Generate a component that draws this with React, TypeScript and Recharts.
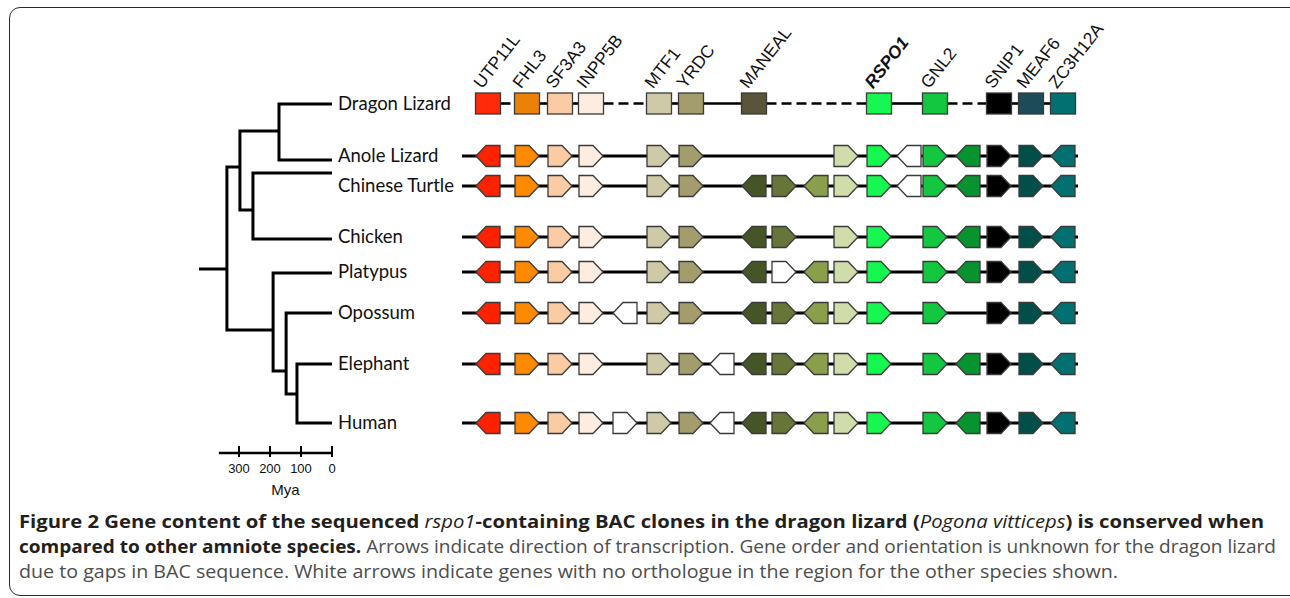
import { ComposedChart, Line, Scatter, XAxis, YAxis } from "recharts";

// ---- data ----
const speciesNames = [
  "Dragon Lizard",
  "Anole Lizard",
  "Chinese Turtle",
  "Chicken",
  "Platypus",
  "Opossum",
  "Elephant",
  "Human",
];

// gene columns along the locus (novel* = no orthologue in the other species)
const geneIds = [
  "UTP11L", "FHL3", "SF3A3", "INPP5B", "novelA", "MTF1", "YRDC", "novelB", "MANEAL",
  "olive1", "novelD", "olive2", "pale", "RSPO1", "novelC", "GNL2", "green2", "SNIP1",
  "MEAF6", "ZC3H12A",
];
const genePositions = [
  488, 527, 560, 591, 625, 659, 691, 722, 754, 784, 784, 816, 846, 879, 909, 935, 968, 999,
  1031, 1063,
];
const geneColors = [
  "#ff2200", "#ff8a00", "#fbcba4", "#fdede0", "#ffffff", "#cecaa7", "#a39c6c", "#ffffff",
  "#465526", "#677638", "#ffffff", "#8a9e4b", "#d0ddab", "#17f752", "#ffffff", "#13c741",
  "#079430", "#000000", "#024f49", "#026f70",
];

// dragon lizard BAC clones: order unknown, drawn as boxes
const dragonGenes = [
  "UTP11L", "FHL3", "SF3A3", "INPP5B", "MTF1", "YRDC", "MANEAL", "RSPO1", "GNL2", "SNIP1",
  "MEAF6", "ZC3H12A",
];
const dragonColors = [
  "#ff2a0a", "#eb8207", "#fbcba4", "#fdede0", "#cecaa7", "#a39c6c", "#5a553a", "#17f752",
  "#13c741", "#000000", "#1d4c58", "#026f70",
];
const dragonGapDashed = [true, false, false, true, false, false, true, false, true, true, false];

// "<" = leftward transcription, ">" = rightward
const anoleGenes = ["UTP11L<", "FHL3>", "SF3A3>", "INPP5B>", "MTF1>", "YRDC>", "pale>", "RSPO1>", "novelC<", "GNL2>", "green2<", "SNIP1>", "MEAF6>", "ZC3H12A<"];
const turtleGenes = ["UTP11L<", "FHL3>", "SF3A3>", "INPP5B>", "MTF1>", "YRDC>", "MANEAL<", "olive1>", "olive2<", "pale>", "RSPO1>", "novelC<", "GNL2>", "green2<", "SNIP1>", "MEAF6>", "ZC3H12A<"];
const chickenGenes = ["UTP11L<", "FHL3>", "SF3A3>", "INPP5B>", "MTF1>", "YRDC>", "MANEAL<", "olive1>", "pale>", "RSPO1>", "GNL2>", "green2<", "SNIP1>", "MEAF6>", "ZC3H12A<"];
const platypusGenes = ["UTP11L<", "FHL3>", "SF3A3>", "INPP5B>", "MTF1>", "YRDC>", "MANEAL<", "novelD>", "olive2<", "pale>", "RSPO1>", "GNL2>", "green2<", "SNIP1>", "MEAF6>", "ZC3H12A<"];
const opossumGenes = ["UTP11L<", "FHL3>", "SF3A3>", "INPP5B>", "novelA<", "MTF1>", "YRDC>", "MANEAL<", "olive1>", "olive2<", "pale>", "RSPO1>", "GNL2>", "SNIP1>", "MEAF6>", "ZC3H12A<"];
const elephantGenes = ["UTP11L<", "FHL3>", "SF3A3>", "INPP5B>", "MTF1>", "YRDC>", "novelB<", "MANEAL<", "olive1>", "olive2<", "pale>", "RSPO1>", "GNL2>", "green2<", "SNIP1>", "MEAF6>", "ZC3H12A<"];
const humanGenes = ["UTP11L<", "FHL3>", "SF3A3>", "INPP5B>", "novelA>", "MTF1>", "YRDC>", "novelB<", "MANEAL<", "olive1>", "olive2<", "pale>", "RSPO1>", "GNL2>", "green2<", "SNIP1>", "MEAF6>", "ZC3H12A<"];
const speciesGenes = [anoleGenes, turtleGenes, chickenGenes, platypusGenes, opossumGenes, elephantGenes, humanGenes];

// phylogeny, divergence times in Mya
const cladeNames = ["Squamata", "Archelosauria", "Sauropsida", "Eutheria", "Theria", "Mammalia", "Amniota"];
const cladeMya = [171, 255, 297, 113, 148, 190, 339];
const cladeChildren = [
  ["Dragon Lizard", "Anole Lizard"],
  ["Chinese Turtle", "Chicken"],
  ["Squamata", "Archelosauria"],
  ["Elephant", "Human"],
  ["Opossum", "Eutheria"],
  ["Platypus", "Theria"],
  ["Sauropsida", "Mammalia"],
];
const rootStemMya = 429;
const scaleTicks = [300, 200, 100, 0];
const scaleBarStart = 365;

// ---- layout ----
const W = 1290;
const CHART_H = 500;
const AXIS_H = 40;
const PLOT_BOTTOM = CHART_H - AXIS_H;
const rowTrack = [103.5, 156, 186, 237, 272, 313, 364, 423];
const tipTrack = [104, 160, 173, 239, 273, 313, 364, 423];
const cladeTrack = [131, 210, 167, 394, 371, 330, 269];
const scaleTrack = 453;
const locusStart = 462;
const locusEnd = 1078;
const labelX = 338;
const MYA_ZERO_PX = 332;
const PX_PER_MYA = 0.31;
const myaDomain = [MYA_ZERO_PX / PX_PER_MYA - W / PX_PER_MYA, MYA_ZERO_PX / PX_PER_MYA];

const posOf = (id: string) => genePositions[geneIds.indexOf(id)];
const colorOf = (id: string) => geneColors[geneIds.indexOf(id)];

const rowGenePoints = speciesGenes.flatMap((list, i) =>
  list.map((s) => {
    const id = s.slice(0, -1);
    return { x: posOf(id), y: rowTrack[i + 1], dir: s.endsWith("<") ? "L" : "R", color: colorOf(id) };
  })
);

const dragonPoints = dragonGenes.map((g, i) => ({
  x: posOf(g),
  y: rowTrack[0],
  gene: g,
  color: dragonColors[i],
}));

const dragonLinks = dragonGenes.slice(1).map((g, i) => ({
  data: [
    { x: posOf(dragonGenes[i]) + 12.5, y: rowTrack[0] },
    { x: posOf(g) - 12.5, y: rowTrack[0] },
  ],
  dashed: dragonGapDashed[i],
}));

const labelPoints = speciesNames.map((name, i) => ({ x: labelX, y: rowTrack[i], name }));

const isTip = (n: string) => speciesNames.includes(n);
const nodeMya = (n: string) => (isTip(n) ? 0 : cladeMya[cladeNames.indexOf(n)]);
const nodeTrack = (n: string) =>
  isTip(n) ? tipTrack[speciesNames.indexOf(n)] : cladeTrack[cladeNames.indexOf(n)];

const treePaths = cladeNames.map((c, i) => {
  const [a, b] = cladeChildren[i];
  const m = cladeMya[i];
  return [
    { mya: nodeMya(a), y: nodeTrack(a) },
    { mya: m, y: nodeTrack(a) },
    { mya: m, y: nodeTrack(b) },
    { mya: nodeMya(b), y: nodeTrack(b) },
  ];
});
const rootStem = [
  { mya: rootStemMya, y: cladeTrack[6] },
  { mya: cladeMya[6], y: cladeTrack[6] },
];
const scaleBar = [
  { mya: scaleBarStart, y: scaleTrack },
  { mya: 0, y: scaleTrack },
];

// ---- shapes ----
const HW = 12;
const HH = 10.5;
const HEAD = 10;

function GeneArrow(props: any) {
  const { cx, cy, payload } = props;
  const pts =
    payload.dir === "R"
      ? [[cx - HW, cy - HH], [cx + HW - HEAD, cy - HH], [cx + HW, cy], [cx + HW - HEAD, cy + HH], [cx - HW, cy + HH]]
      : [[cx + HW, cy - HH], [cx - HW + HEAD, cy - HH], [cx - HW, cy], [cx - HW + HEAD, cy + HH], [cx + HW, cy + HH]];
  return (
    <polygon
      points={pts.map((p) => p.join(",")).join(" ")}
      fill={payload.color}
      stroke="#3a3a3a"
      strokeWidth={1.3}
    />
  );
}

function DragonBox(props: any) {
  const { cx, cy, payload } = props;
  const tx = cx - 6;
  const ty = cy - 14;
  const bold = payload.gene === "RSPO1";
  return (
    <g>
      <rect x={cx - 12.5} y={cy - HH} width={25} height={21} fill={payload.color} stroke="#3a3a3a" strokeWidth={1.3} />
      <text
        x={tx}
        y={ty}
        transform={`rotate(-52 ${tx} ${ty})`}
        fontFamily="'Liberation Sans', Arial, sans-serif"
        fontSize={17.5}
        fontWeight={bold ? 700 : 400}
        fontStyle={bold ? "italic" : "normal"}
        fill="#111"
      >
        {payload.gene}
      </text>
    </g>
  );
}

function SpeciesLabel(props: any) {
  const { cx, cy, payload } = props;
  return (
    <text x={cx} y={cy} dy="0.35em" fontFamily="Lato, sans-serif" fontSize={18.5} fill="#111">
      {payload.name}
    </text>
  );
}

function MyaLabel(props: any) {
  const { cx, cy } = props;
  return (
    <text x={cx} y={cy + 42} textAnchor="middle" fontFamily="'Liberation Sans', Arial, sans-serif" fontSize={15} fill="#111">
      Mya
    </text>
  );
}

function ScaleTick(props: any) {
  const { x, y, payload } = props;
  return (
    <g>
      <line x1={x} x2={x} y1={y - 14} y2={y - 3} stroke="#000" strokeWidth={2} />
      <text x={x} y={y + 13} textAnchor="middle" fontFamily="'Liberation Sans', Arial, sans-serif" fontSize={13} fill="#111">
        {payload.value}
      </text>
    </g>
  );
}

export default function App() {
  return (
    <div style={{ position: "fixed", left: 0, top: 0, width: W, height: 598, overflow: "hidden", background: "#fff" }}>
      <div
        style={{
          position: "absolute",
          left: 9,
          top: 7,
          width: 1310,
          height: 589,
          border: "1.5px solid #2b2b2b",
          borderRadius: 11,
          boxSizing: "border-box",
        }}
      />
      <div style={{ position: "absolute", left: 0, top: 0 }}>
        <ComposedChart width={W} height={CHART_H} margin={{ top: 0, right: 0, bottom: 0, left: 0 }}>
          <XAxis xAxisId="pos" type="number" dataKey="x" domain={[0, W]} hide />
          <XAxis
            xAxisId="mya"
            type="number"
            dataKey="mya"
            domain={myaDomain}
            reversed
            ticks={scaleTicks}
            interval={0}
            axisLine={false}
            tickLine={false}
            tickSize={0}
            tickMargin={0}
            height={AXIS_H}
            tick={ScaleTick}
          />
          <YAxis yAxisId="t" type="number" dataKey="y" domain={[0, PLOT_BOTTOM]} reversed hide />

          {treePaths.map((d, i) => (
            <Line key={`tree-${i}`} xAxisId="mya" yAxisId="t" data={d} dataKey="y" type="linear" stroke="#000" strokeWidth={3} dot={false} isAnimationActive={false} />
          ))}
          <Line xAxisId="mya" yAxisId="t" data={rootStem} dataKey="y" type="linear" stroke="#000" strokeWidth={3} dot={false} isAnimationActive={false} />
          <Line xAxisId="mya" yAxisId="t" data={scaleBar} dataKey="y" type="linear" stroke="#000" strokeWidth={2.5} dot={false} isAnimationActive={false} />

          {rowTrack.slice(1).map((t, i) => (
            <Line
              key={`row-${i}`}
              xAxisId="pos"
              yAxisId="t"
              data={[{ x: locusStart, y: t }, { x: locusEnd, y: t }]}
              dataKey="y"
              type="linear"
              stroke="#000"
              strokeWidth={3}
              dot={false}
              isAnimationActive={false}
            />
          ))}
          {dragonLinks.map((l, i) => (
            <Line
              key={`link-${i}`}
              xAxisId="pos"
              yAxisId="t"
              data={l.data}
              dataKey="y"
              type="linear"
              stroke="#000"
              strokeWidth={2.6}
              strokeDasharray={l.dashed ? "10 5" : undefined}
              dot={false}
              isAnimationActive={false}
            />
          ))}

          <Scatter xAxisId="pos" yAxisId="t" data={rowGenePoints} shape={GeneArrow} isAnimationActive={false} />
          <Scatter xAxisId="pos" yAxisId="t" data={dragonPoints} shape={DragonBox} isAnimationActive={false} />
          <Scatter xAxisId="pos" yAxisId="t" data={labelPoints} shape={SpeciesLabel} isAnimationActive={false} />
          <Scatter xAxisId="mya" yAxisId="t" data={[{ mya: 150, y: scaleTrack }]} shape={MyaLabel} isAnimationActive={false} />
        </ComposedChart>
      </div>
      <svg width={W} height={598} style={{ position: "absolute", left: 0, top: 0, pointerEvents: "none" }}>
        <g fontFamily="'Open Sans', sans-serif" fontSize={18}>
          <text x={19} y={528} textLength={1245} lengthAdjust="spacingAndGlyphs" fontWeight={700} fill="#231f20">
            Figure 2 Gene content of the sequenced <tspan fontStyle="italic" fontWeight={400}>rspo1</tspan>-containing BAC clones in the dragon lizard (<tspan fontStyle="italic" fontWeight={400}>Pogona vitticeps</tspan>) is conserved when
          </text>
          <text x={19} y={553} textLength={1257} lengthAdjust="spacingAndGlyphs" fill="#4d4d4d">
            <tspan fontWeight={700} fill="#231f20">compared to other amniote species.</tspan> Arrows indicate direction of transcription. Gene order and orientation is unknown for the dragon lizard
          </text>
          <text x={19} y={578} textLength={1099} lengthAdjust="spacingAndGlyphs" fill="#4d4d4d">
            due to gaps in BAC sequence. White arrows indicate genes with no orthologue in the region for the other species shown.
          </text>
        </g>
      </svg>
    </div>
  );
}
